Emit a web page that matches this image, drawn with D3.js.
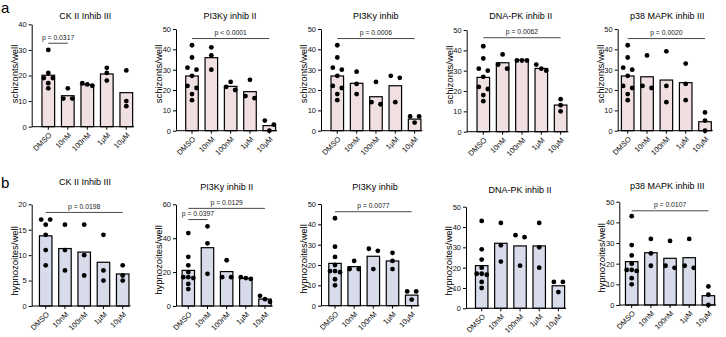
<!DOCTYPE html>
<html>
<head>
<meta charset="utf-8">
<script src="https://cdn.jsdelivr.net/npm/d3@7"></script>
<style>
  body { margin: 0; background: #fff; }
  svg { display: block; font-family: "Liberation Sans", Arial, sans-serif; }
</style>
</head>
<body>
<div id="chart"></div>
<script>
const categories = ["DMSO", "10nM", "100nM", "1µM", "10µM"];

// row a: schizonts
const schizontTitles = ["CK II Inhib III", "PI3Ky inhib II", "PI3Ky inhib", "DNA-PK inhib II", "p38 MAPK inhib III"];
const schizontMax = [40, 50, 50, 50, 50];
const schizontTickStep = [10, 10, 10, 10, 10];
const schizontMeans = [
  [20.1, 12.1, 16.4, 20.6, 13.3],
  [26.9, 35.9, 21.8, 19.2, 2.5],
  [26.9, 23.3, 16.7, 22.1, 5.7],
  [26.7, 33.9, 35.2, 31.1, 13.1],
  [26.9, 26.5, 24.9, 23.6, 4.4]
];
const dmsoCK = [30, 21, 19, 19, 17, 15];
const dmsoSchizont = [42, 36, 31, 30, 27, 22, 21, 18, 15];
const schizontPoints = [
  [dmsoCK, [15, 11, 11], [17, 16.5, 16], [23, 21, 18], [22, 10, 8]],
  [dmsoSchizont, [41, 37, 30], [24, 21.5, 20], [25, 17, 16], [5, 3, 0]],
  [dmsoSchizont, [29, 23, 18], [24, 14, 13], [27, 26, 14], [7, 7, 4]],
  [dmsoSchizont, [38, 33, 31], [35, 35, 35], [33, 31, 30], [16, 13, 10]],
  [dmsoSchizont, [37, 22, 21], [39, 22, 14], [33, 23, 15], [9, 5, 0]]
];
// [from, to, label, height]
const schizontP = [
  [[0, 1, "p = 0.0317", 32.6]],
  [[0, 4, "p < 0.0001", 45.3]],
  [[0, 4, "p = 0.0006", 45.3]],
  [[0, 4, "p = 0.0062", 46.2]],
  [[0, 4, "p = 0.0020", 45.3]]
];

// row b: hypnozoites
const hypnoTitles = ["CK II Inhib III", "PI3Ky inhib II", "PI3Ky inhib", "DNA-PK inhib II", "p38 MAPK inhib III"];
const hypnoMax = [20, 60, 50, 50, 50];
const hypnoTickStep = [5, 20, 10, 10, 10];
const hypnoMeans = [
  [13.8, 11.3, 10.6, 8.6, 6.3],
  [21.0, 34.4, 20.3, 16.3, 4.1],
  [20.8, 19.2, 24.3, 22.0, 5.2],
  [21.0, 32.0, 30.7, 30.7, 11.1],
  [21.0, 25.3, 22.6, 22.9, 4.5]
];
const dmsoCKHypno = [17, 17, 16, 14, 11, 8];
const dmsoHypno = [43, 29, 24, 20, 17, 17, 16.5, 13, 10];
const hypnoPoints = [
  [dmsoCKHypno, [16, 11, 7], [16, 10, 6], [14, 7, 5], [8, 6, 5]],
  [dmsoHypno, [47, 37, 19], [27, 17, 17], [17, 16.5, 16], [6, 4, 2.5]],
  [dmsoHypno, [22, 18, 18], [28, 27, 18], [26, 22, 18], [7, 7, 3]],
  [dmsoHypno, [42, 31, 23], [36, 35, 21], [42, 30, 20], [13, 13, 8]],
  [dmsoHypno, [32, 25, 19], [31, 19, 18], [32, 19, 18], [9, 5, 0]]
];
const hypnoP = [
  [[0, 4, "p = 0.0198", 18.4]],
  [[0, 4, "p = 0.0129", 57.6], [0, 1, "p = 0.0397", 51]],
  [[0, 4, "p = 0.0077", 46.2]],
  [],
  [[0, 4, "p = 0.0107", 45.6]]
];

const W = 726, H = 337;
const svg = d3.select("#chart").append("svg").attr("width", W).attr("height", H);

// panel placement (axis x, first bar centre, step, top/bottom of y axis, title, y label)
const layoutA = [
  {ax: 31.7, c0: 48.3, step: 19.5, top: 24.3, base: 126.7, tx: 85.3, ty: 18.5, lx: 14.7, ly: 74},
  {ax: 176, c0: 192, step: 19.33, top: 29, base: 130.7, tx: 230, ty: 18.5, lx: 159, ly: 74},
  {ax: 321, c0: 337.3, step: 19.33, top: 29, base: 130.7, tx: 375.7, ty: 18.5, lx: 304, ly: 74},
  {ax: 466.7, c0: 483.3, step: 19.33, top: 30, base: 131.7, tx: 520.7, ty: 19, lx: 449.7, ly: 75},
  {ax: 617.7, c0: 627.7, step: 19.33, top: 29, base: 130.7, tx: 667.3, ty: 19, lx: 600.7, ly: 74}
];
const layoutB = [
  {ax: 31.7, c0: 45.7, step: 19.25, top: 204.3, base: 306, tx: 85, ty: 185, lx: 14.7, ly: 261},
  {ax: 176, c0: 188.3, step: 19.17, top: 204.3, base: 306, tx: 226.7, ty: 190.3, lx: 159, ly: 260},
  {ax: 321, c0: 335, step: 19.17, top: 204, base: 305.7, tx: 375, ty: 190, lx: 304, ly: 259},
  {ax: 466, c0: 481.7, step: 19.17, top: 206.7, base: 308.3, tx: 520, ty: 192.5, lx: 449, ly: 261},
  {ax: 619.3, c0: 631.7, step: 19.17, top: 201.7, base: 305, tx: 667.3, ty: 189, lx: 601.5, ly: 258}
];

// spread dots that sit at nearly the same height side by side
function swarm(vals, y, cx) {
  const sorted = vals.slice().sort((a, b) => b - a);
  const groups = [];
  sorted.forEach(v => {
    const g = groups[groups.length - 1];
    if (g && Math.abs(y(g[g.length - 1]) - y(v)) < 4.5) g.push(v);
    else groups.push([v]);
  });
  const out = [];
  groups.forEach(g => {
    const sp = g.length === 2 ? 9 : 5;
    g.forEach((v, i) => out.push({v, x: cx + (i - (g.length - 1) / 2) * sp}));
  });
  return out;
}

function drawPanel(L, title, max, tickStep, means, points, pvals, yLabel, fill) {
  const g = svg.append("g");
  const y = d3.scaleLinear().domain([0, max]).range([L.base, L.top]);
  const x = d3.scaleBand().domain(categories)
    .range([L.c0 - L.step / 2, L.c0 + 4.5 * L.step])
    .paddingInner(0.35).paddingOuter(0.175);
  const bw = x.bandwidth();

  // bars
  g.selectAll("rect.bar")
    .data(categories)
    .join("rect")
    .attr("class", "bar")
    .attr("x", d => x(d))
    .attr("y", (d, i) => y(means[i]))
    .attr("width", bw)
    .attr("height", (d, i) => L.base - y(means[i]))
    .attr("fill", fill)
    .attr("stroke", "#000")
    .attr("stroke-width", 1.2);

  // dots
  categories.forEach((c, i) => {
    const pts = swarm(points[i], y, x(c) + bw / 2);
    g.selectAll(null)
      .data(pts)
      .join("circle")
      .attr("cx", d => d.x)
      .attr("cy", d => y(d.v))
      .attr("r", 2.4)
      .attr("fill", "#000");
  });

  // y axis
  const yAxis = g.append("g")
    .attr("transform", `translate(${L.ax},0)`)
    .call(d3.axisLeft(y).tickValues(d3.range(0, max + 0.1, tickStep)).tickSize(3).tickSizeOuter(0).tickPadding(2));
  yAxis.selectAll("text").style("font-size", "7.5px").attr("fill", "#111");
  yAxis.select(".domain").attr("stroke-width", 1);

  // x axis
  const lastRight = x(categories[4]) + bw + 1.5;
  g.append("line")
    .attr("x1", L.ax).attr("x2", lastRight)
    .attr("y1", L.base).attr("y2", L.base)
    .attr("stroke", "#000").attr("stroke-width", 1);
  const xAxis = g.append("g")
    .attr("transform", `translate(0,${L.base})`)
    .call(d3.axisBottom(x).tickSize(3).tickSizeOuter(0));
  xAxis.select(".domain").remove();
  xAxis.selectAll("text")
    .attr("x", 0).attr("y", 0).attr("dy", "0.35em")
    .attr("transform", "translate(2,7) rotate(-45)")
    .style("text-anchor", "end")
    .style("font-size", "7.5px")
    .attr("fill", "#111");

  // title
  g.append("text")
    .attr("x", L.tx).attr("y", L.ty)
    .attr("text-anchor", "middle")
    .style("font-size", "9px")
    .text(title);

  // y label
  g.append("text")
    .attr("transform", `translate(${L.lx},${L.ly}) rotate(-90)`)
    .attr("dy", "0.35em")
    .attr("text-anchor", "middle")
    .style("font-size", "9.5px")
    .text(yLabel);

  // significance brackets
  pvals.forEach(([from, to, label, h]) => {
    const x1 = x(categories[from]) + bw / 2;
    const x2 = x(categories[to]) + bw / 2;
    g.append("line")
      .attr("x1", x1).attr("x2", x2)
      .attr("y1", y(h)).attr("y2", y(h))
      .attr("stroke", "#333").attr("stroke-width", 0.9);
    g.append("text")
      .attr("x", (x1 + x2) / 2).attr("y", y(h) - 3.3)
      .attr("text-anchor", "middle")
      .style("font-size", "6.8px")
      .attr("fill", "#222")
      .text(label);
  });
}

schizontTitles.forEach((t, i) => {
  drawPanel(layoutA[i], t, schizontMax[i], schizontTickStep[i], schizontMeans[i],
    schizontPoints[i], schizontP[i], "schizonts/well", "#f0e0e1");
});
hypnoTitles.forEach((t, i) => {
  drawPanel(layoutB[i], t, hypnoMax[i], hypnoTickStep[i], hypnoMeans[i],
    hypnoPoints[i], hypnoP[i], "hypnozoites/well", "#d7dbea");
});

// panel letters
svg.append("text").attr("x", 1).attr("y", 13).style("font-size", "15px").text("a");
svg.append("text").attr("x", 1).attr("y", 188).style("font-size", "15px").text("b");
</script>
</body>
</html>
